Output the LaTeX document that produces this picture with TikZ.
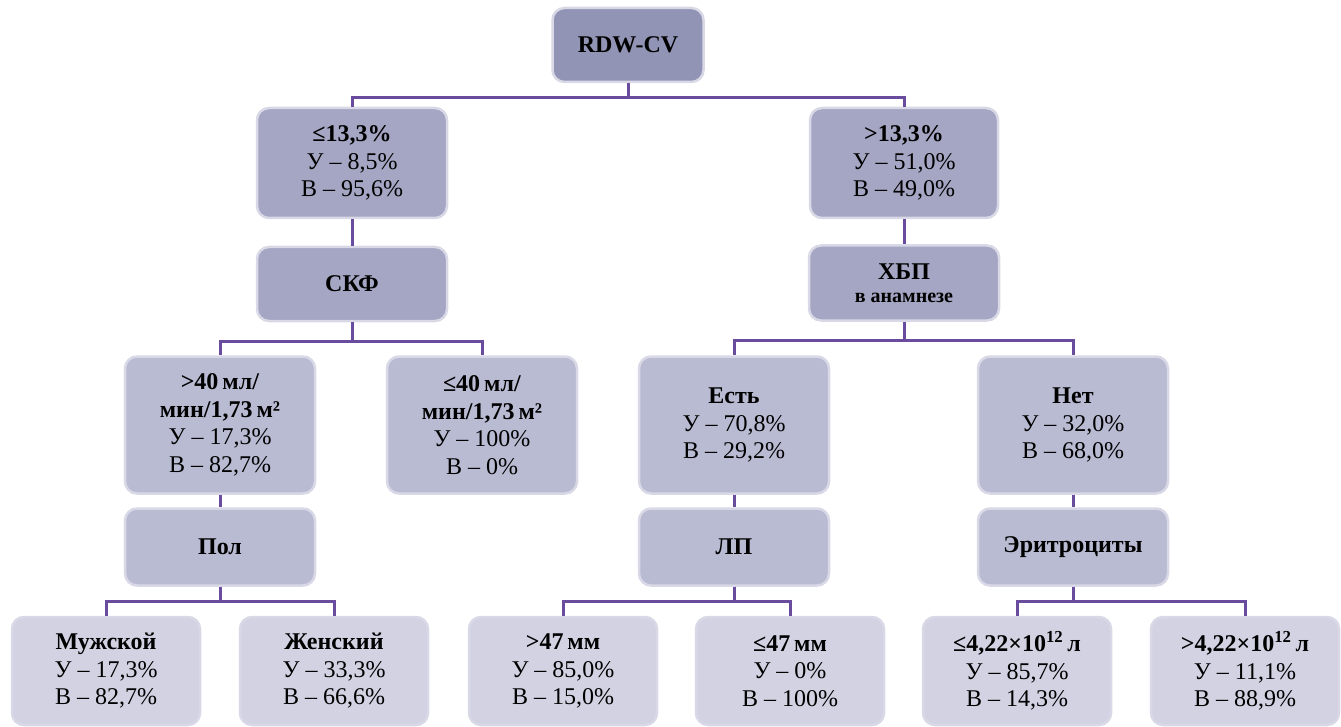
\documentclass[tikz,border=0pt]{standalone}
\usepackage{fontspec}
\setmainfont{Liberation Serif}
\definecolor{lnk}{HTML}{6A4C9E}
\definecolor{rootfill}{HTML}{9194B5}
\definecolor{midfill}{HTML}{A4A6C3}
\definecolor{lowfill}{HTML}{B9BBD3}
\definecolor{leaffill}{HTML}{D2D2E3}
\definecolor{rim}{HTML}{D8D8E6}
\tikzset{
  box/.style={draw=rim, line width=2.5pt, rounded corners=12pt, align=center,
    inner sep=0pt, minimum width=190pt, font=\fontsize{24}{27.5}\selectfont},
  link/.style={draw=lnk, line width=3pt},
}
\begin{document}
\begin{tikzpicture}[x=1pt,y=-1pt]
\useasboundingbox (0,0) rectangle (1341,727);
% level 0 and 1
\node[box,fill=rootfill,minimum width=151pt,minimum height=74pt] (root) at (628,45) {\textbf{RDW-CV}};
\node[box,fill=midfill,minimum height=110pt] (lo1) at (352,163) {\textbf{≤13,3\%}\\У – 8,5\%\\В – 95,6\%};
\node[box,fill=midfill,minimum width=188pt,minimum height=110pt] (hi1) at (904,163) {\textbf{>13,3\%}\\У – 51,0\%\\В – 49,0\%};
% level 2
\node[box,fill=midfill,minimum height=74pt] (skf) at (352,284) {\textbf{СКФ}};
\node[box,fill=midfill,minimum height=75pt] (hbp) at (904,283) {\textbf{ХБП}\\[-4pt]{\fontsize{20}{23}\selectfont\textbf{в анамнезе}}};
% level 3
\node[box,fill=lowfill,minimum height=137pt] (gt40) at (220,425) {\textbf{>40\,мл/}\\\textbf{мин/1,73\,м²}\\У – 17,3\%\\В – 82,7\%};
\node[box,fill=lowfill,minimum height=137pt] (le40) at (482,425) {\textbf{≤40\,мл/}\\\textbf{мин/1,73\,м²}\\У – 100\%\\В – 0\%};
\node[box,fill=lowfill,minimum height=137pt] (est) at (734,425) {\textbf{Есть}\\У – 70,8\%\\В – 29,2\%};
\node[box,fill=lowfill,minimum height=137pt] (net) at (1073,425) {\textbf{Нет}\\У – 32,0\%\\В – 68,0\%};
% level 4
\node[box,fill=lowfill,minimum height=77pt] (pol) at (220,547) {\textbf{Пол}};
\node[box,fill=lowfill,minimum height=77pt] (lp) at (734,547) {\textbf{ЛП}};
\node[box,fill=lowfill,minimum height=77pt] (eryt) at (1073,547) {\textbf{Эритроциты}};
% leaves
\node[box,fill=leaffill,minimum width=188pt,minimum height=108pt] (male) at (106,671) {\textbf{Мужской}\\У – 17,3\%\\В – 82,7\%};
\node[box,fill=leaffill,minimum width=188pt,minimum height=108pt] (female) at (334,671) {\textbf{Женский}\\У – 33,3\%\\В – 66,6\%};
\node[box,fill=leaffill,minimum width=188pt,minimum height=108pt] (gt47) at (563,671) {\textbf{>47\,мм}\\У – 85,0\%\\В – 15,0\%};
\node[box,fill=leaffill,minimum width=188pt,minimum height=108pt] (le47) at (790,671) {\textbf{≤47\,мм}\\У – 0\%\\В – 100\%};
\node[box,fill=leaffill,minimum width=188pt,minimum height=108pt] (lo422) at (1017,671) {\textbf{≤4,22×10\textsuperscript{12}\,л}\\У – 85,7\%\\В – 14,3\%};
\node[box,fill=leaffill,minimum width=188pt,minimum height=108pt] (hi422) at (1245,671) {\textbf{>4,22×10\textsuperscript{12}\,л}\\У – 11,1\%\\В – 88,9\%};
% connectors
\draw[link] (root.south) -- ++(0,14) -| (lo1.north);
\draw[link] (root.south) -- ++(0,14) -| (hi1.north);
\draw[link] (lo1.south) -- (skf.north);
\draw[link] (hi1.south) -- (hbp.north);
\draw[link] (skf.south) -- ++(0,19) -| (gt40.north);
\draw[link] (skf.south) -- ++(0,19) -| (le40.north);
\draw[link] (hbp.south) -- ++(0,19) -| (est.north);
\draw[link] (hbp.south) -- ++(0,19) -| (net.north);
\draw[link] (gt40.south) -- (pol.north);
\draw[link] (est.south) -- (lp.north);
\draw[link] (net.south) -- (eryt.north);
\draw[link] (pol.south) -- ++(0,15) -| (male.north);
\draw[link] (pol.south) -- ++(0,15) -| (female.north);
\draw[link] (lp.south) -- ++(0,15) -| (gt47.north);
\draw[link] (lp.south) -- ++(0,15) -| (le47.north);
\draw[link] (eryt.south) -- ++(0,15) -| (lo422.north);
\draw[link] (eryt.south) -- ++(0,15) -| (hi422.north);
\end{tikzpicture}
\end{document}
